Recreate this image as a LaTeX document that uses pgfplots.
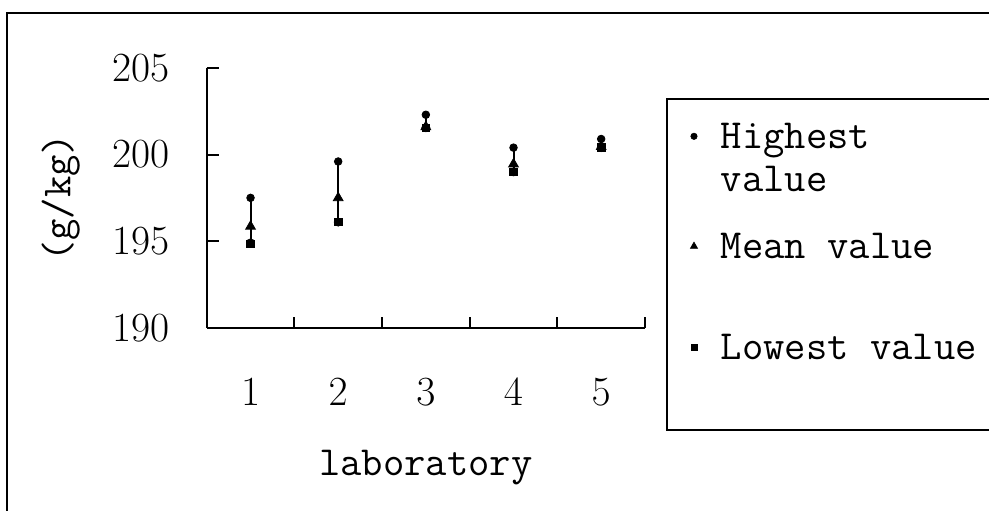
\documentclass[border=0pt]{standalone}
\usepackage{fontspec}
\usepackage{pgfplots}
\pgfplotsset{compat=1.18}
\newcommand\legtxt[3]{\makebox[140pt][l]{\rule[-#2]{0pt}{\dimexpr#1+#2\relax}#3}}
\begin{document}
\begin{tikzpicture}
\useasboundingbox (0,0) rectangle (494.5pt,255pt);
\draw[line width=1pt] (3.65pt,-20pt) -- (3.65pt,248.65pt) -- (520pt,248.65pt);
\begin{axis}[
  at={(103.35pt,91.15pt)}, anchor=south west,
  scale only axis, width=219.15pt, height=129.85pt,
  xmin=0.5, xmax=5.5, ymin=190, ymax=205,
  clip=false,
  axis x line*=bottom, axis y line*=left,
  axis line style={line width=1pt},
  xtick={1,2,3,4,5}, minor xtick={1.5,2.5,3.5,4.5,5.5},
  ytick={190,195,200,205},
  tick align=inside,
  major tick length=6pt, minor tick length=5.5pt,
  tick style={black, line width=1pt},
  major x tick style={draw=none},
  xticklabel style={font=\fontsize{20.5}{24}\selectfont, inner sep=0pt, anchor=north, yshift=-25.5pt},
  yticklabel style={font=\fontsize{20.5}{24}\selectfont, inner sep=0pt, anchor=east, xshift=-18.5pt},
  xlabel={laboratory}, ylabel={(g/kg)},
  every axis x label/.style={at={(axis description cs:0.5,0)}, anchor=base, yshift=-73.65pt, font=\fontsize{20.7}{24}\ttfamily},
  every axis y label/.style={at={(axis description cs:0,0.5)}, anchor=center, xshift=-73pt, rotate=90, font=\fontsize{20.7}{24}\ttfamily},
  legend style={at={(1.0479,0.8833)}, anchor=north west, draw=black, line width=1pt,
    inner xsep=0pt, inner ysep=0pt, row sep=0pt, column sep=0pt,
    font=\fontsize{20.7}{24}\ttfamily, cells={anchor=base west},
    nodes={inner sep=0pt, text depth=, text height=}},
  legend image code/.code={\path (-13pt,0pt) (13pt,0pt); \draw[line width=0.3pt,#1] plot coordinates {(0pt,6pt)};},
]
\addplot[forget plot, only marks, mark=none,
  error bars/.cd, y dir=plus, y explicit, error mark=none,
  error bar style={draw=black, line width=1pt}]
  coordinates {(1,194.9) += (0,2.6) (2,196.1) += (0,3.5) (3,201.55) += (0,0.75) (4,199.0) += (0,1.4) (5,200.4) += (0,0.5)};
\addplot[forget plot, only marks, mark=*, mark size=1.9pt, black, mark options={fill=black}]
  coordinates {(1,197.5) (2,199.6) (3,202.3) (4,200.4) (5,200.9)};
\addplot[forget plot, only marks, mark=triangle*, mark size=2.8pt, black, mark options={fill=black}]
  coordinates {(1,195.85) (2,197.5) (3,201.6) (4,199.45) (5,200.45)};
\addplot[forget plot, only marks, mark=square*, mark size=1.9pt, black, mark options={fill=black}]
  coordinates {(1,194.85) (2,196.1) (3,201.55) (4,199.0) (5,200.4)};
\addlegendimage{only marks, mark=*, mark size=1.6pt, black, mark options={fill=black}}
\addlegendentry{\legtxt{24.5pt}{8pt}{Highest}}
\addlegendimage{empty legend}
\addlegendentry{\legtxt{13.5pt}{8pt}{value}}
\addlegendimage{only marks, mark=triangle*, mark size=2.1pt, black, mark options={fill=black}}
\addlegendentry{\legtxt{25.5pt}{8pt}{Mean value}}
\addlegendimage{only marks, mark=square*, mark size=1.5pt, black, mark options={fill=black}}
\addlegendentry{\legtxt{42.5pt}{35.5pt}{Lowest value}}
\end{axis}
\end{tikzpicture}
\end{document}
